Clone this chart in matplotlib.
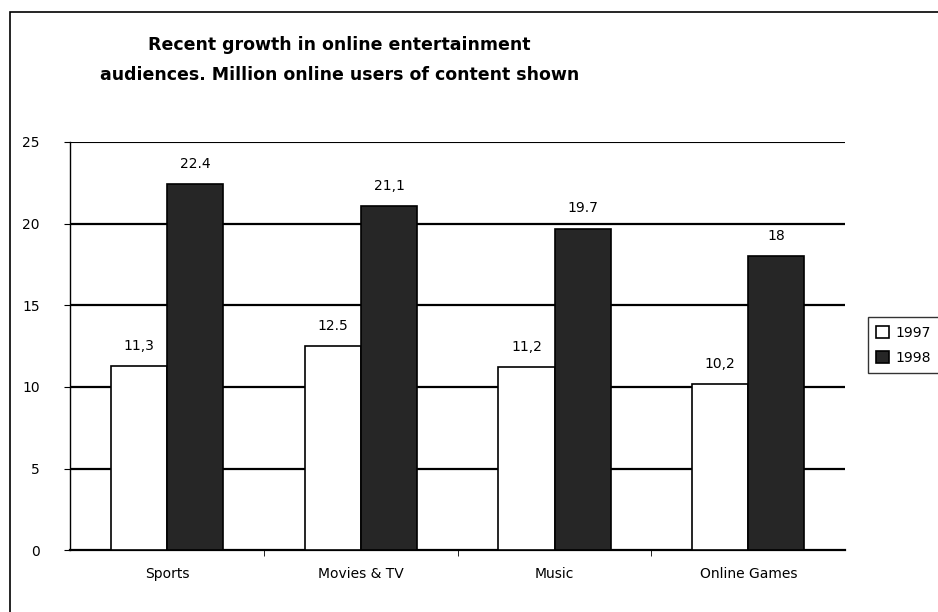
import numpy as np
import matplotlib.pyplot as plt
from matplotlib.patches import Rectangle

plt.rcParams.update({"font.family": "DejaVu Sans", "font.size": 10})

categories = ["Sports", "Movies & TV", "Music", "Online Games"]
users_1997 = [11.3, 12.5, 11.2, 10.2]
users_1998 = [22.4, 21.1, 19.7, 18.0]
labels_1997 = ["11,3", "12.5", "11,2", "10,2"]
labels_1998 = ["22.4", "21,1", "19.7", "18"]

fig = plt.figure(figsize=(9.38, 6.12), dpi=100)
ax = fig.add_axes([0.075, 0.101, 0.826, 0.667])

x = np.arange(len(categories))
w = 0.29
b1 = ax.bar(x - w / 2, users_1997, w, color="white", edgecolor="black", linewidth=1.2, label="1997", zorder=3)
b2 = ax.bar(x + w / 2, users_1998, w, color="#262626", edgecolor="black", linewidth=1.2, label="1998", zorder=3)

for rect, txt in zip(b1, labels_1997):
    ax.text(rect.get_x() + rect.get_width() / 2, rect.get_height() + 0.8, txt, ha="center", va="bottom", fontsize=10)
for rect, txt in zip(b2, labels_1998):
    ax.text(rect.get_x() + rect.get_width() / 2, rect.get_height() + 0.8, txt, ha="center", va="bottom", fontsize=10)

ax.set_xlim(-0.5, len(categories) - 0.5)
ax.set_ylim(0, 25)
ax.set_yticks(range(0, 26, 5))
for y in range(5, 21, 5):
    ax.axhline(y, color="black", linewidth=1.6, zorder=1)
ax.axhline(25, color="black", linewidth=0.8, zorder=1)

ax.set_xticks(x)
ax.set_xticklabels(categories)
ax.set_xticks(np.arange(0.5, len(categories) - 0.5, 1), minor=True)
ax.tick_params(axis="x", which="major", length=0, pad=12)
ax.tick_params(axis="x", which="minor", length=4, direction="out")
ax.tick_params(axis="y", length=4, direction="out", pad=18)

for s in ["top", "right"]:
    ax.spines[s].set_visible(False)
ax.spines["left"].set_linewidth(1.0)
ax.spines["bottom"].set_linewidth(1.6)

fig.text(0.362, 0.927, "Recent growth in online entertainment", ha="center", va="center",
         fontsize=12.5, fontweight="bold")
fig.text(0.362, 0.878, "audiences. Million online users of content shown", ha="center", va="center",
         fontsize=12.5, fontweight="bold")

fig.legend(handles=[b1, b2], labels=["1997", "1998"], loc="upper left",
           bbox_to_anchor=(0.918, 0.493), frameon=True, fancybox=False,
           edgecolor="black", handlelength=0.9, handleheight=0.9,
           handletextpad=0.5, borderpad=0.6, labelspacing=0.8, fontsize=10)

fig.patches.append(Rectangle((0.011, -0.01), 1.0, 0.99, transform=fig.transFigure,
                             fill=False, edgecolor="black", linewidth=1.2))

fig.savefig("out.png", dpi=100)
